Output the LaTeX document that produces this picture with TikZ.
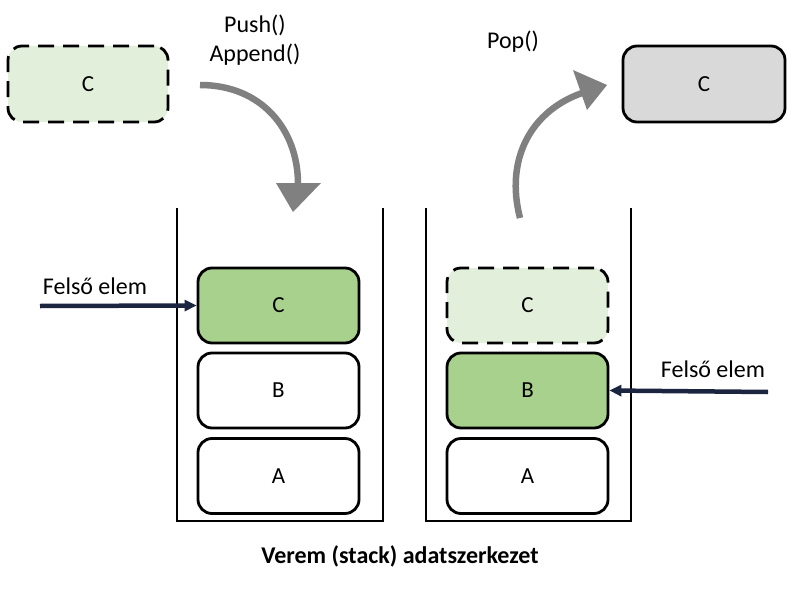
\documentclass[tikz,border=0pt]{standalone}
\usepackage{fontspec}
\setmainfont{Carlito}
\usetikzlibrary{arrows.meta}
\definecolor{darkgreen}{HTML}{A9D18E}
\definecolor{lightgreen}{HTML}{E2EFDA}
\definecolor{boxgray}{HTML}{D9D9D9}
\definecolor{arrgray}{HTML}{808080}
\definecolor{navy}{HTML}{1B2540}
\begin{document}
\begin{tikzpicture}[x=1pt,y=-1pt,
  elem/.style={draw=black,line width=2.8pt,rounded corners=14pt,minimum width=161pt,minimum height=75pt,inner sep=0pt,font=\fontsize{23}{26}\selectfont},
  dashelem/.style={elem,dash pattern=on 16pt off 9pt},
  lbl/.style={font=\fontsize{24}{28}\selectfont,inner sep=0pt},
  curvarrow/.style={draw=arrgray,line width=6.5pt},
  head/.style={fill=arrgray,draw=none},
  ptr/.style={draw=navy,line width=4.5pt,-{Triangle[length=12pt,width=11pt]}},
  cont/.style={draw=black,line width=2.3pt}]
\useasboundingbox (0,0) rectangle (791,588);
% containers
\draw[cont] (177,208) -- (177,521) -- (383,521) -- (383,208);
\draw[cont] (426,208) -- (426,521) -- (631,521) -- (631,208);
% left stack
\node[elem,fill=darkgreen] (lc) at (278.5,305.5) {C};
\node[elem,fill=white] (lb) at (278.5,390.5) {B};
\node[elem,fill=white] (la) at (278.5,476) {A};
% right stack
\node[dashelem,fill=lightgreen] (rc) at (527.5,305.5) {C};
\node[elem,fill=darkgreen] (rb) at (527.5,390.5) {B};
\node[elem,fill=white] (ra) at (527.5,476) {A};
% top boxes
\node[dashelem,fill=lightgreen,minimum width=160pt,minimum height=76pt] (tc) at (88,84) {C};
\node[elem,fill=boxgray,minimum width=162pt,minimum height=76pt] (pc) at (704,84) {C};
% labels
\node[lbl] (push) at (255,25) {Push()};
\node[lbl] (append) at (255,55) {Append()};
\node[lbl] (pop) at (513,42) {Pop()};
\node[lbl] (fl) at (95,286) {Felső elem};
\node[lbl] (fr) at (713,369) {Felső elem};
\node[font=\bfseries\fontsize{24}{28}\selectfont,inner sep=0pt] (cap) at (400,556) {Verem (stack) adatszerkezet};
% pointer arrows
\coordinate (fls) at (40,306);
\coordinate (frs) at (768,392);
\draw[ptr] (fls) -- (lc.west);
\draw[ptr] (frs) -- (rb.east);
% push curved arrow
\coordinate (ps) at (200,85);
\coordinate (pe) at (298,184);
\draw[curvarrow] (ps) .. controls (262,85) and (298,130) .. (pe);
\fill[head] (276,183) -- (321,183) -- (293,212) -- cycle;
% pop curved arrow
\coordinate (os) at (520,218);
\coordinate (oe) at (585,92);
\draw[curvarrow] (os) .. controls (505,160) and (530,110) .. (oe);
\fill[head] (573,70) -- (607,85) -- (587,110) -- cycle;
\end{tikzpicture}
\end{document}
